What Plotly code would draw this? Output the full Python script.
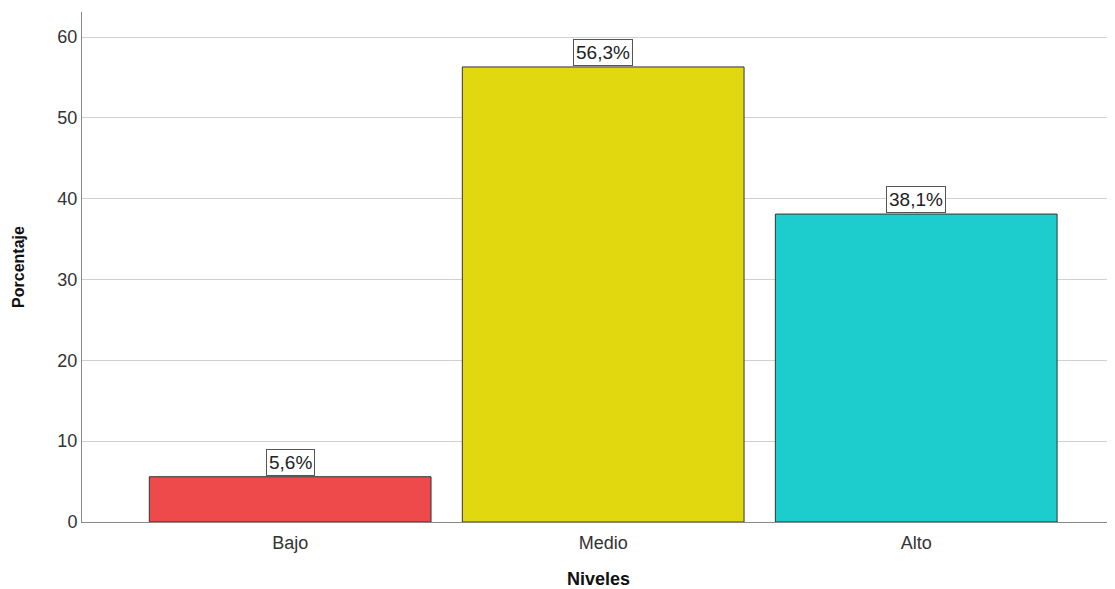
import plotly.graph_objects as go

categories = ["Bajo", "Medio", "Alto"]
values = [5.6, 56.3, 38.1]
labels = ["5,6%", "56,3%", "38,1%"]
colors = ["#EE4A4C", "#E1D80F", "#1DCDCD"]

fig = go.Figure()
fig.add_trace(go.Bar(
    x=categories, y=values, width=0.9,
    marker=dict(color=colors, line=dict(color="#333333", width=1)),
    hoverinfo="skip",
))

for c, v, t in zip(categories, values, labels):
    fig.add_annotation(
        x=c, y=v, text=t, showarrow=False, yanchor="bottom", yshift=1,
        font=dict(family="Liberation Sans, Arial", size=19, color="#222222"),
        bordercolor="#555555", borderwidth=1, borderpad=2, bgcolor="white",
    )

fig.update_layout(
    width=1107, height=581,
    margin=dict(l=74, r=0, t=4, b=58),
    plot_bgcolor="white", paper_bgcolor="white",
    showlegend=False,
    font=dict(family="Liberation Sans, Arial", color="#333333"),
    bargap=0.1,
)
fig.update_xaxes(
    range=[-0.665, 2.635],
    showline=True, linecolor="#888888", linewidth=1,
    showgrid=False, ticks="", tickfont=dict(size=18, color="#333333"),
    ticklabelstandoff=4,
    title=dict(text="<b>Niveles</b>", font=dict(size=18, color="#111111"), standoff=24),
)
fig.update_yaxes(
    range=[0, 63.1], tickvals=[0, 10, 20, 30, 40, 50, 60],
    showline=True, linecolor="#888888", linewidth=1,
    showgrid=True, gridcolor="#D0D0D0", gridwidth=1,
    ticks="", tickfont=dict(size=18, color="#333333"), zeroline=False,
    title=dict(text="<b>Porcentaje</b>", font=dict(size=16, color="#111111"), standoff=28),
)

fig.write_html("out.html")
